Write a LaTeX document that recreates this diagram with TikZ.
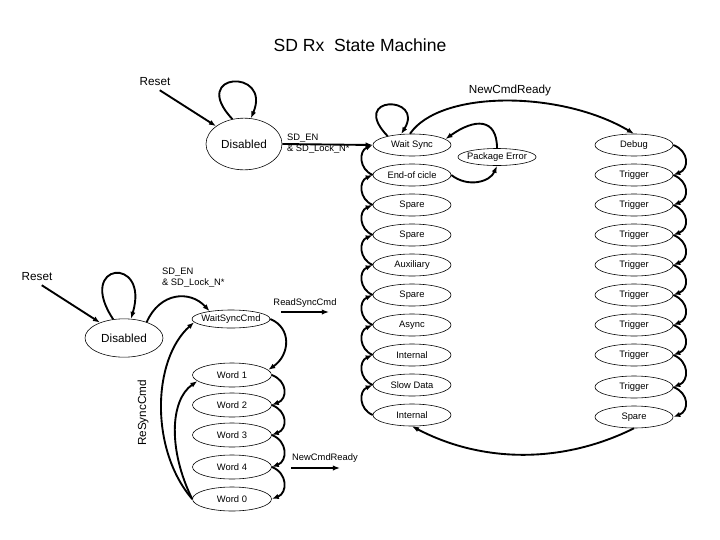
\documentclass[tikz,border=0pt]{standalone}
\usepackage{fontspec}
\setmainfont{Liberation Sans}
\usetikzlibrary{arrows.meta,shapes.geometric}

\begin{document}
\begin{tikzpicture}[x=0.3mm, y=-0.3mm,
  st/.style={draw, ellipse, line width=0.5pt, inner sep=0pt,
    minimum width=2.34cm, minimum height=0.66cm, font=\fontsize{8}{9.6}\selectfont},
  wd/.style={st, minimum width=2.37cm, minimum height=0.72cm},
  big/.style={draw, ellipse, line width=0.5pt, inner sep=0pt,
    minimum width=2.28cm, minimum height=1.55cm, font=\fontsize{10}{12}\selectfont},
  lbl/.style={font=\fontsize{10}{12}\selectfont},
  sm/.style={font=\fontsize{8}{9.6}\selectfont},
  arr/.style={-{Latex[length=6pt,width=4.5pt]}, line width=1.6pt},
  rside/.style={to path={.. controls +(16,6) and +(16,-6) .. (\tikztotarget)}},
  lside/.style={to path={.. controls +(-14,-6) and +(-14,6) .. (\tikztotarget)}}]
\useasboundingbox (0,0) rectangle (720,540);
% Title
\node[font=\fontsize{15}{18}\selectfont] (title) at (360,45) {SD Rx\ \ State Machine};
% Top: Disabled
\node[lbl] (rst1) at (155,82) {Reset};
\node[big] (dis1) at (244,144) {Disabled};
\draw[arr] (rst1.-60) -- (dis1);
\draw[arr] (dis1.115) .. controls (188,72) and (272,68) .. (dis1.75);
% Left column
\node[st] (ws) at (412,145) {Wait Sync};
\node[st] (eoc) at (412,175) {End-of cicle};
\node[st] (sp1) at (412,205) {Spare};
\node[st] (sp2) at (412,235) {Spare};
\node[st] (aux) at (412,265) {Auxiliary};
\node[st] (sp3) at (412,295) {Spare};
\node[st] (asy) at (412,325) {Async};
\node[st] (int1) at (412,355) {Internal};
\node[st] (slow) at (412,385) {Slow Data};
\node[st] (int2) at (412,415) {Internal};
\node[st, inner xsep=-2pt, minimum height=0.51cm] (pe) at (497,157) {Package Error};
\draw[arr] (dis1.east) -- (ws.west)
  node[pos=0, right, sm, align=left] {SD\_EN\\\& SD\_Lock\_N*};
\draw[arr] (ws.160) .. controls (348,95) and (425,95) .. (ws.135);
\draw[arr] (eoc.west) to[lside] (ws.west);
\draw[arr] (sp1.west) to[lside] (eoc.west);
\draw[arr] (sp2.west) to[lside] (sp1.west);
\draw[arr] (aux.west) to[lside] (sp2.west);
\draw[arr] (sp3.west) to[lside] (aux.west);
\draw[arr] (asy.west) to[lside] (sp3.west);
\draw[arr] (int1.west) to[lside] (asy.west);
\draw[arr] (slow.west) to[lside] (int1.west);
\draw[arr] (int2.west) to[lside] (slow.west);
\draw[arr] (pe.north) .. controls (497,118) and (475,118) .. (ws.10);
\draw[arr] (eoc.east) .. controls (468,188) and (490,182) .. (pe.south);
% Right column
\node[lbl] (ncr1) at (510,90) {NewCmdReady};
\node[st] (dbg) at (634,145) {Debug};
\node[st] (tr1) at (634,175) {Trigger};
\node[st] (tr2) at (634,205) {Trigger};
\node[st] (tr3) at (634,235) {Trigger};
\node[st] (tr4) at (634,265) {Trigger};
\node[st] (tr5) at (634,295) {Trigger};
\node[st] (tr6) at (634,325) {Trigger};
\node[st] (tr7) at (634,355) {Trigger};
\node[st] (tr8) at (634,387) {Trigger};
\node[st] (rsp) at (634,417) {Spare};
\draw[arr] (ws.100) .. controls (440,90) and (560,90) .. (dbg.north);
\draw[arr] (dbg.east) to[rside] (tr1.east);
\draw[arr] (tr1.east) to[rside] (tr2.east);
\draw[arr] (tr2.east) to[rside] (tr3.east);
\draw[arr] (tr3.east) to[rside] (tr4.east);
\draw[arr] (tr4.east) to[rside] (tr5.east);
\draw[arr] (tr5.east) to[rside] (tr6.east);
\draw[arr] (tr6.east) to[rside] (tr7.east);
\draw[arr] (tr7.east) to[rside] (tr8.east);
\draw[arr] (tr8.east) to[rside] (rsp.east);
\draw[arr] (rsp.south) .. controls (560,465) and (480,462) .. (int2.south);
% Bottom: Disabled
\node[lbl] (rst2) at (37,277) {Reset};
\node[big, minimum width=2.34cm, minimum height=1.15cm] (dis2) at (124,338) {Disabled};
\draw[arr] (rst2.-60) -- (dis2);
\draw[arr] (dis2.120) .. controls (75,262) and (150,255) .. (dis2.70);
\node[sm, align=left, anchor=west] (sdl2) at (158,278) {SD\_EN\\\& SD\_Lock\_N*};
% Bottom: sync words
\node[st, inner xsep=-2pt, minimum height=0.54cm] (wsc) at (231,319) {WaitSyncCmd};
\node[wd] (w1) at (232,375) {Word 1};
\node[wd] (w2) at (232,405) {Word 2};
\node[wd] (w3) at (232,435) {Word 3};
\node[wd] (w4) at (232,467) {Word 4};
\node[wd] (w0) at (232,499) {Word 0};
\draw[arr] (dis2.35) .. controls (160,292) and (190,290) .. (wsc.160);
\draw[arr] (wsc.east) .. controls (292,328) and (290,355) .. (w1.8);
\draw[arr] (w1.east) to[rside] (w2.east);
\draw[arr] (w2.east) to[rside] (w3.east);
\draw[arr] (w3.east) to[rside] (w4.east);
\draw[arr] (w4.east) to[rside] (w0.east);
\draw[arr] (w0.west) .. controls (168,450) and (170,400) .. (w1.190);
\draw[arr] (w0.west) .. controls (150,450) and (152,360) .. (wsc.185);
\node[lbl, rotate=90] (rsync) at (143,413) {ReSyncCmd};
% Outgoing commands
\node[sm] (rsclbl) at (305,303) {ReadSyncCmd};
\coordinate (rsc0) at (281,312);
\coordinate (rsc1) at (329,312);
\draw[arr] (rsc0) -- (rsc1);
\node[sm] (ncr2) at (325,458) {NewCmdReady};
\coordinate (ncr2a) at (291,468);
\coordinate (ncr2b) at (340,468);
\draw[arr] (ncr2a) -- (ncr2b);
\end{tikzpicture}
\end{document}
